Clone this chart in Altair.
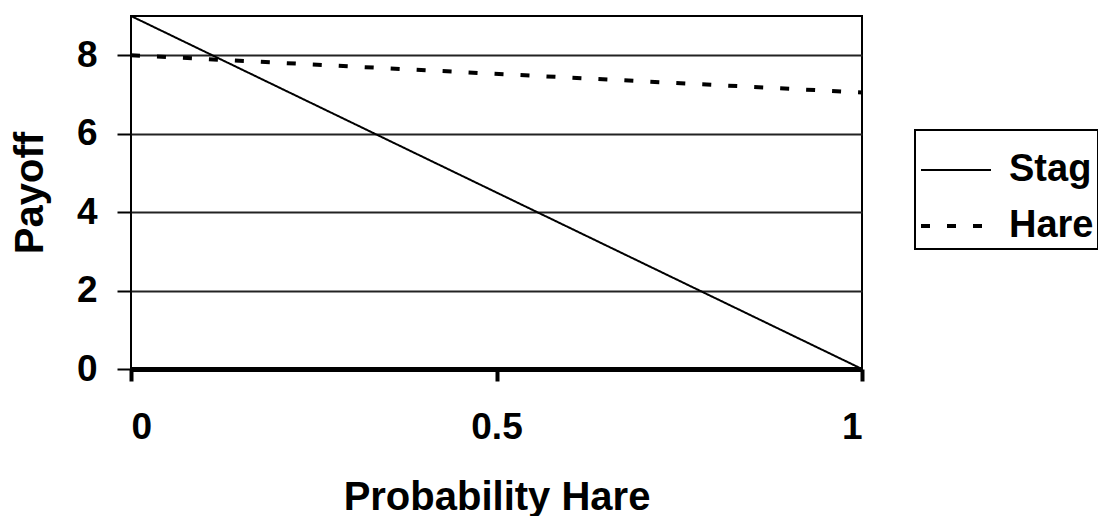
import altair as alt
import pandas as pd

# data
prob = [0.0, 1.0]
stag = [9.0, 0.0]
hare = [8.0, 7.05]
series = ["Stag", "Hare"]
x_ticks = [0, 0.5, 1]
y_ticks = [0, 2, 4, 6, 8]

rows = []
for p, s in zip(prob, stag):
    rows.append({"p": p, "payoff": s, "series": "Stag"})
for p, h in zip(prob, hare):
    rows.append({"p": p, "payoff": h, "series": "Hare"})
df = pd.DataFrame(rows)

FONT = "Liberation Sans"

chart = (
    alt.Chart(df)
    .mark_line(color="black")
    .encode(
        x=alt.X(
            "p:Q",
            scale=alt.Scale(domain=[0, 1], nice=False, zero=False),
            axis=alt.Axis(
                title="Probability Hare",
                values=x_ticks,
                format="~g",
                grid=False,
                domainColor="black",
                domainWidth=5,
                tickColor="black",
                tickWidth=4,
                tickSize=12,
                labelPadding=28,
                titlePadding=32,
            ),
        ),
        y=alt.Y(
            "payoff:Q",
            scale=alt.Scale(domain=[0, 9], nice=False),
            axis=alt.Axis(
                title="Payoff",
                values=y_ticks,
                format="~g",
                grid=True,
                gridColor="#222222",
                gridWidth=2,
                domain=False,
                tickColor="black",
                tickWidth=2,
                tickSize=14,
                labelPadding=20,
                titlePadding=26,
            ),
        ),
        strokeDash=alt.StrokeDash(
            "series:N",
            scale=alt.Scale(domain=series, range=[[1, 0], [9, 17]]),
            legend=alt.Legend(
                title=None,
                orient="none",
                legendX=784,
                legendY=114,
                symbolType="stroke",
                symbolSize=4900,
                symbolStrokeColor="black",
                symbolStrokeWidth=3,
                symbolDashOffset=0,
                labelFont=FONT,
                labelFontSize=38,
                labelFontWeight="bold",
                labelColor="black",
                labelOffset=16,
                rowPadding=-20,
                padding=4,
                strokeColor="black",
            ),
        ),
        strokeWidth=alt.StrokeWidth(
            "series:N",
            scale=alt.Scale(domain=series, range=[2, 4]),
            legend=None,
        ),
    )
    .properties(
        width=731,
        height=353,
        autosize=alt.AutoSizeParams(type="none"),
        padding={"left": 123, "top": 8, "right": 236, "bottom": 147},
    )
    .configure_view(stroke="black", strokeWidth=2)
    .configure_axis(
        labelFont=FONT,
        labelFontSize=37,
        labelFontWeight="bold",
        labelColor="black",
        titleFont=FONT,
        titleFontSize=40,
        titleFontWeight="bold",
        titleColor="black",
    )
    .configure_legend(strokeWidth=2)
)

chart.save("out.html", embed_options={"renderer": "svg", "actions": False})
